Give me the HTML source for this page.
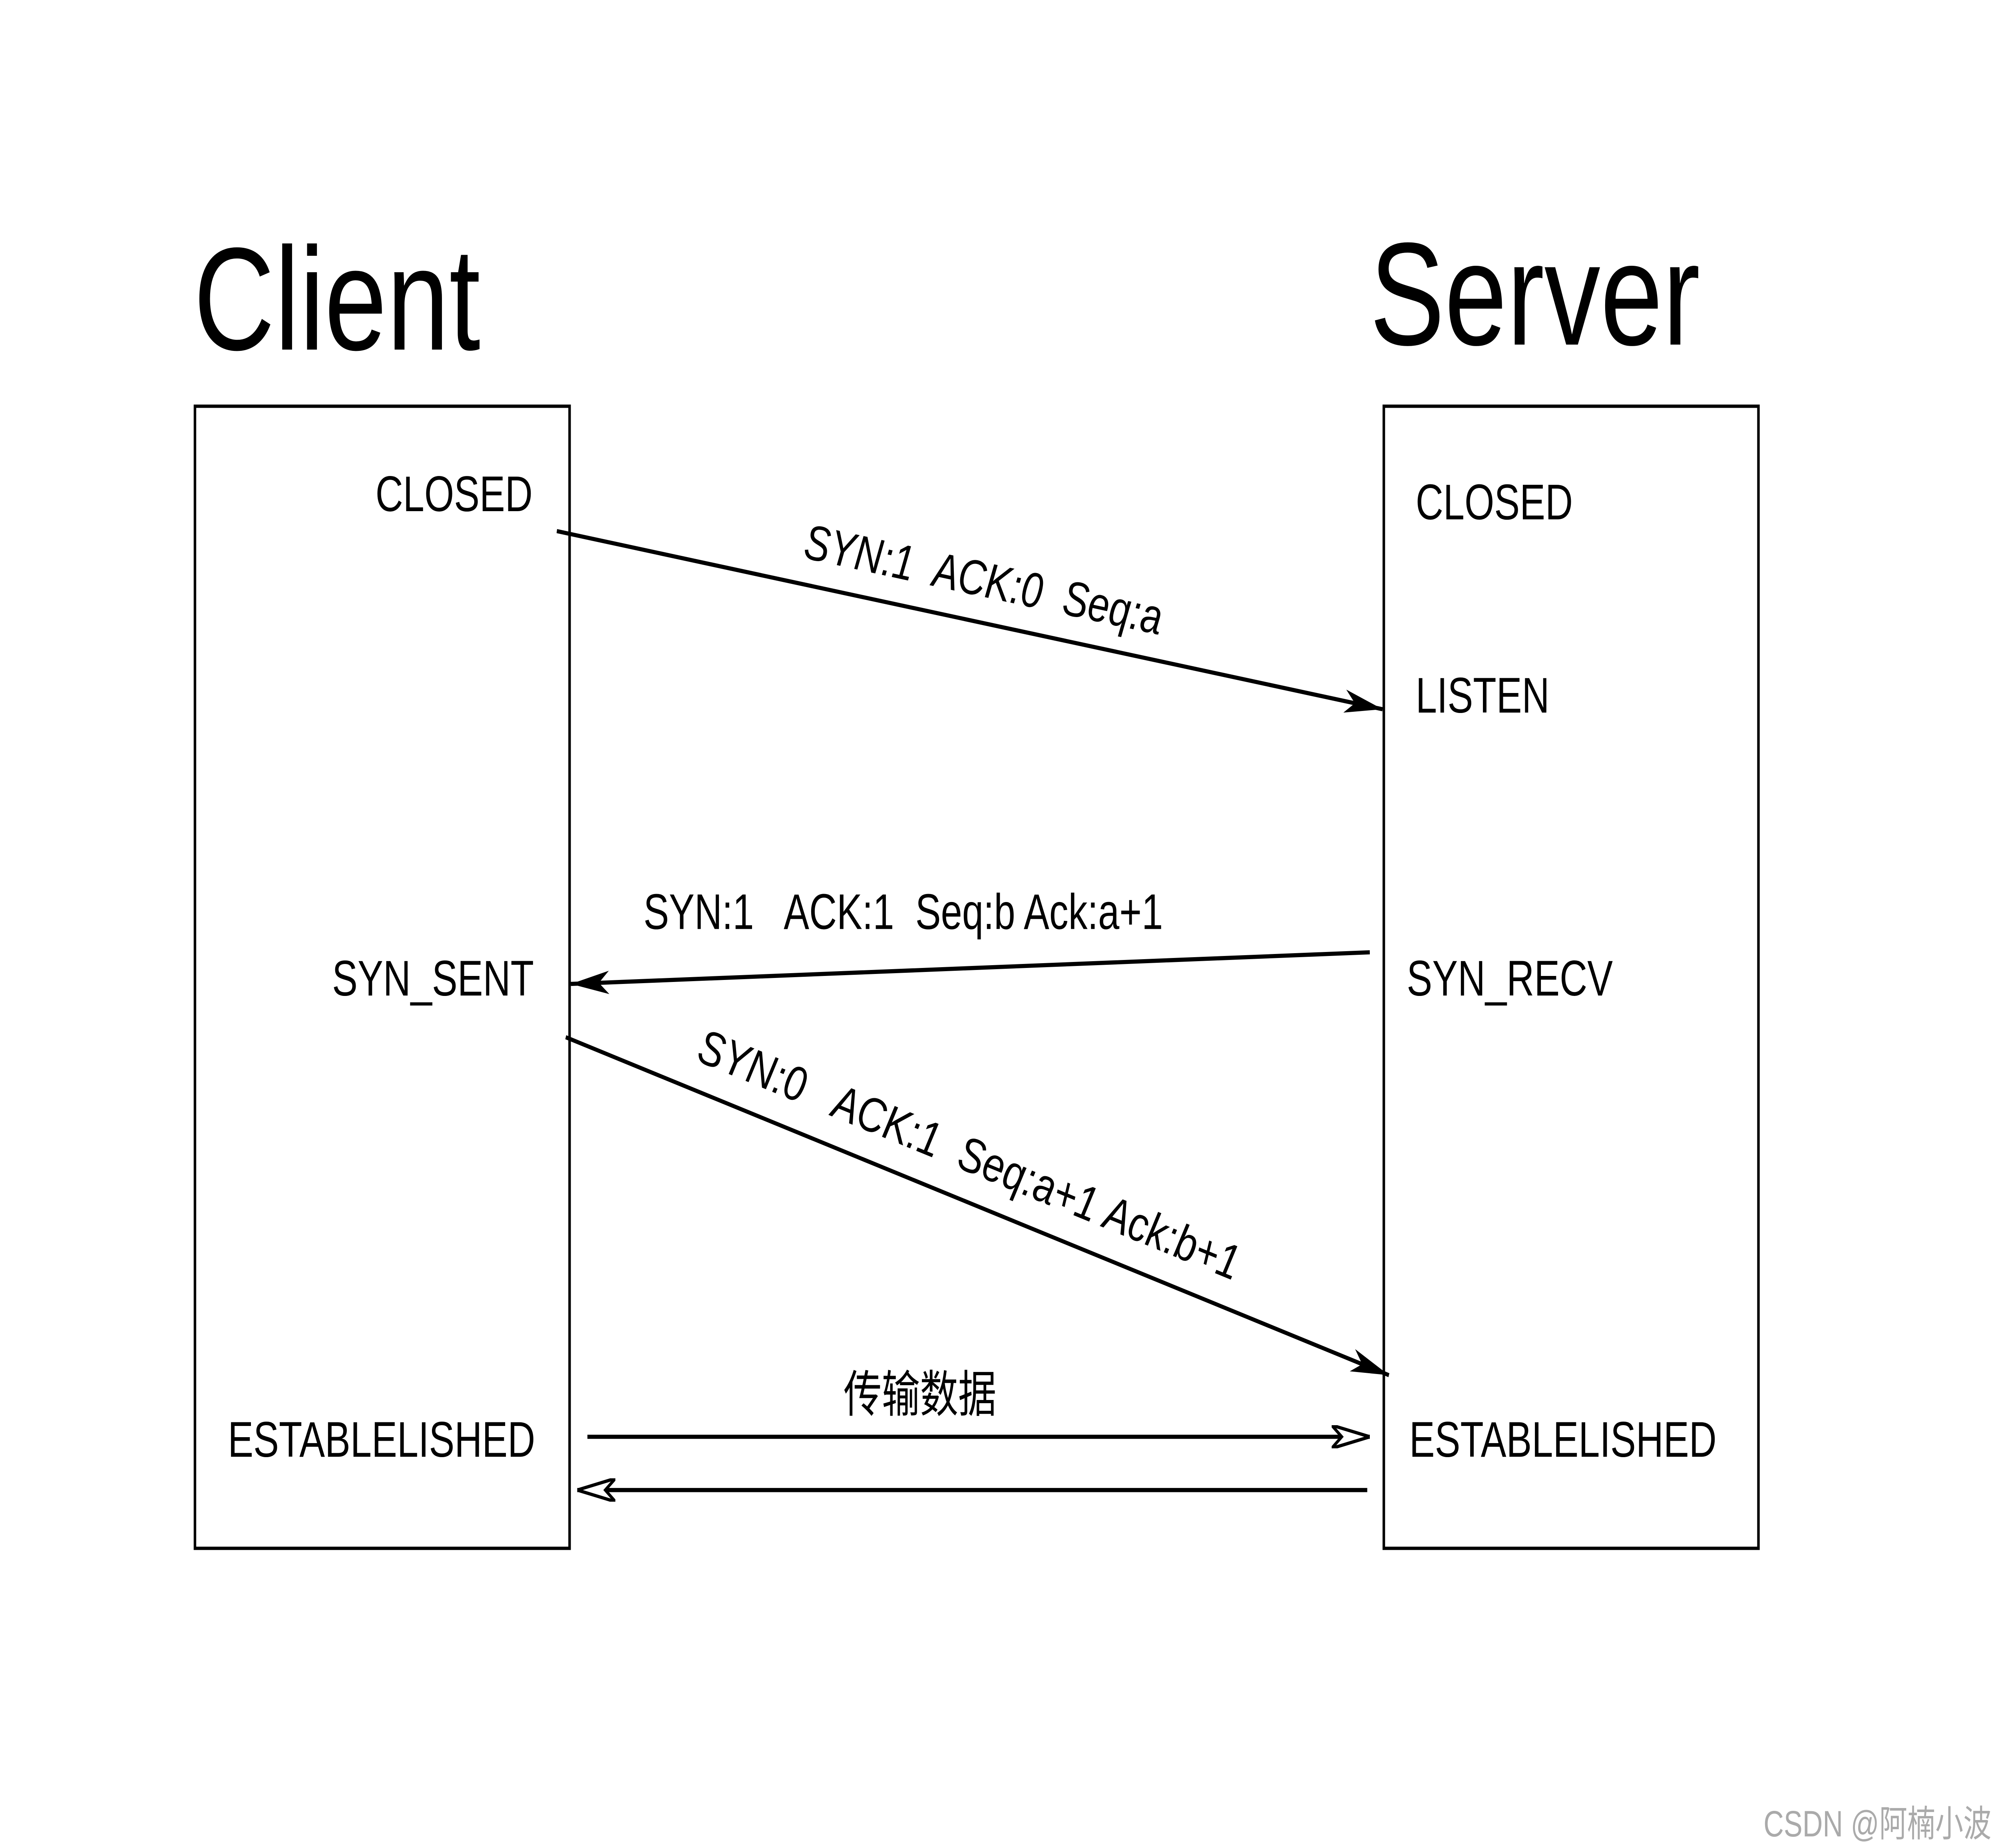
<!DOCTYPE html>
<html><head><meta charset="utf-8"><style>
html,body{margin:0;padding:0;background:#fff;overflow:hidden;width:100vw;height:100vh;}
svg{display:block;width:100vw;height:100vh;}
text{font-family:"Liberation Sans","Noto Sans CJK SC",sans-serif;fill:#000;}
</style></head><body>
<svg viewBox="0 0 1568 1110" preserveAspectRatio="none" xmlns="http://www.w3.org/2000/svg">
<defs>
<marker id="o" markerWidth="30" markerHeight="14" refX="30" refY="7" orient="auto" markerUnits="userSpaceOnUse" viewBox="0 0 30 14">
<path d="M0,0 L30,7 L0,14 L8,7 Z" fill="#fff" stroke="#000" stroke-width="2"/>
</marker>
<marker id="b" markerWidth="30" markerHeight="14" refX="30" refY="7" orient="auto" markerUnits="userSpaceOnUse" viewBox="0 0 30 14">
<path d="M0,0 L30,7 L0,14 L8,7 Z" fill="#000"/>
</marker>
</defs>
<rect width="1568" height="1110" fill="#fff"/>
<text x="152" y="210" font-size="88">Client</text>
<text x="1075" y="207" font-size="88">Server</text>
<rect x="153" y="244" width="294" height="686" fill="none" stroke="#000" stroke-width="2"/>
<rect x="1086" y="244" width="294" height="686" fill="none" stroke="#000" stroke-width="2"/>
<g font-size="30">
<text x="418" y="307" text-anchor="end">CLOSED</text>
<text x="419" y="598" text-anchor="end">SYN_SENT</text>
<text x="420" y="875" text-anchor="end">ESTABLELISHED</text>
<text x="1111" y="312">CLOSED</text>
<text x="1111" y="428">LISTEN</text>
<text x="1104" y="598">SYN_RECV</text>
<text x="1106" y="875">ESTABLELISHED</text>
<text x="505" y="558" xml:space="preserve">SYN:1   ACK:1  Seq:b Ack:a+1</text>
<text x="662" y="848">传输数据</text>
</g>
<line x1="437" y1="319" x2="1085" y2="426" stroke="#000" stroke-width="2.5" marker-end="url(#b)"/>
<line x1="1075" y1="572" x2="448" y2="591" stroke="#000" stroke-width="2.5" marker-end="url(#b)"/>
<line x1="444" y1="623" x2="1090" y2="826" stroke="#000" stroke-width="2.5" marker-end="url(#b)"/>
<line x1="461" y1="863" x2="1075" y2="863" stroke="#000" stroke-width="2.5" marker-end="url(#o)"/>
<line x1="1073" y1="895" x2="453" y2="895" stroke="#000" stroke-width="2.5" marker-end="url(#o)"/>
<text font-size="30" font-style="italic" transform="translate(630,335) rotate(9.4)" xml:space="preserve">SYN:1  ACK:0  Seq:a</text>
<text font-size="30" font-style="italic" transform="translate(546,637) rotate(17.4)" xml:space="preserve">SYN:0   ACK:1  Seq:a+1 Ack:b+1</text>
<text x="1384" y="1103" font-size="22" style="fill:#aaa">CSDN @阿楠小波</text>
</svg>
</body></html>
